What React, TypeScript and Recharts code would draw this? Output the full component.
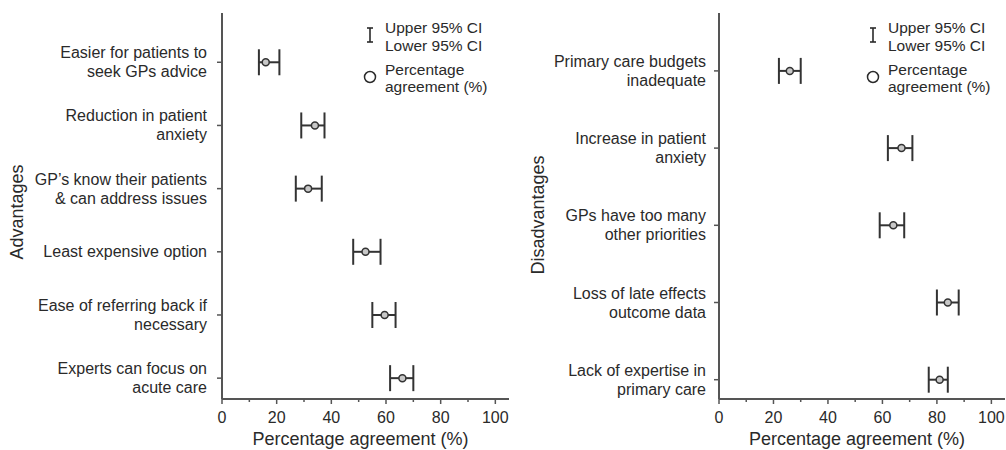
import React from 'react';
import { ScatterChart, Scatter, XAxis, YAxis, ErrorBar, Legend } from 'recharts';

const FONT = '"Liberation Sans", Arial, Helvetica, sans-serif';
const INK = '#2a2a2a';
const AXIS = '#555';

// Advantages (top to bottom)
const advLabels = [
  ['Easier for patients to', 'seek GPs advice'],
  ['Reduction in patient', 'anxiety'],
  ["GP’s know their patients", '& can address issues'],
  ['Least expensive option'],
  ['Ease of referring back if', 'necessary'],
  ['Experts can focus on', 'acute care'],
];
const advPct = [16, 34, 31.5, 52.5, 59.5, 66];
const advLow = [13.5, 29, 27, 48, 55, 61.5];
const advHigh = [21, 37.5, 36.5, 58, 63.5, 70];

// Disadvantages (top to bottom)
const disLabels = [
  ['Primary care budgets', 'inadequate'],
  ['Increase in patient', 'anxiety'],
  ['GPs have too many', 'other priorities'],
  ['Loss of late effects', 'outcome data'],
  ['Lack of expertise in', 'primary care'],
];
const disPct = [26, 67, 64, 84, 81];
const disLow = [22, 62, 59, 80, 77];
const disHigh = [30, 71, 68, 88, 84];

const xTicks = [0, 10, 20, 30, 40, 50, 60, 70, 80, 90, 100];

const XTick = (props: any) => {
  const { x, y, payload } = props;
  const major = payload.value % 20 === 0;
  return (
    <g>
      <line x1={x} x2={x} y1={y} y2={y + (major ? 5 : 3)} stroke={AXIS} strokeWidth={1.5} />
      {major && (
        <text x={x} y={y + 24} textAnchor="middle" fill={INK} fontSize={16} fontFamily={FONT}>
          {payload.value}
        </text>
      )}
    </g>
  );
};

const makeYTick = (labels: string[][]) => (props: any) => {
  const { x, y, payload } = props;
  const lines = labels[payload.value - 1] || [];
  const start = y - ((lines.length - 1) * 19) / 2 + 5.5;
  return (
    <text x={x} y={start} textAnchor="end" fill={INK} fontSize={16} fontFamily={FONT}>
      {lines.map((l, i) => (
        <tspan key={i} x={x} y={start + i * 19}>
          {l}
        </tspan>
      ))}
    </text>
  );
};

// rotated y-axis title, placed from the axis viewBox
const makeYTitle = (title: string, offset: number, shift: number) => (props: any) => {
  const vb = props.viewBox;
  const cx = vb.x + offset;
  const cy = vb.y + vb.height / 2 + shift;
  return (
    <text
      x={cx}
      y={cy}
      transform={`rotate(-90, ${cx}, ${cy})`}
      textAnchor="middle"
      dominantBaseline="central"
      fill={INK}
      fontSize={18}
      fontFamily={FONT}
    >
      {title}
    </text>
  );
};

const XTitle = (props: any) => {
  const vb = props.viewBox;
  return (
    <text
      x={vb.x + vb.width / 2 - 5}
      y={vb.y + vb.height - 5}
      textAnchor="middle"
      fill={INK}
      fontSize={18}
      fontFamily={FONT}
    >
      Percentage agreement (%)
    </text>
  );
};

const CiLegend = () => (
  <svg width={150} height={100} style={{ overflow: 'visible' }}>
    <g stroke={INK} strokeWidth={1.6}>
      <line x1={8} x2={8} y1={13} y2={27} />
      <line x1={5} x2={11} y1={13} y2={13} />
      <line x1={5} x2={11} y1={27} y2={27} />
    </g>
    <circle cx={8} cy={62} r={5.5} fill="#fff" stroke={INK} strokeWidth={1.5} />
    <g fill={INK} fontSize={15.5} fontFamily={FONT}>
      <text x={23} y={18}>Upper 95% CI</text>
      <text x={23} y={35.5}>Lower 95% CI</text>
      <text x={23} y={60}>Percentage</text>
      <text x={23} y={77}>agreement (%)</text>
    </g>
  </svg>
);

type PanelProps = {
  labels: string[][];
  pct: number[];
  low: number[];
  high: number[];
  title: string;
  left: number;
  width: number;
  yWidth: number;
  yDomain: [number, number];
  tickMargin: number;
  titleOffset: number;
  titleShift: number;
  legendLeft: number;
};

const Panel = (p: PanelProps) => {
  const data = p.pct.map((v, i) => ({
    pos: i + 1,
    pct: v,
    err: [v - p.low[i], p.high[i] - v],
  }));
  return (
    <div style={{ position: 'absolute', left: p.left, top: 0 }}>
      <ScatterChart width={p.width} height={450} margin={{ top: 13, right: 1, bottom: 0, left: 0 }}>
        <XAxis
          type="number"
          dataKey="pct"
          domain={[0, 105]}
          ticks={xTicks}
          interval={0}
          tickSize={0}
          tickMargin={0}
          tick={<XTick />}
          height={51}
          axisLine={{ stroke: AXIS, strokeWidth: 2 }}
          label={XTitle}
        />
        <YAxis
          type="number"
          dataKey="pos"
          reversed
          domain={p.yDomain}
          ticks={p.labels.map((_, i) => i + 1)}
          interval={0}
          width={p.yWidth}
          tickSize={5}
          tickMargin={p.tickMargin}
          tickLine={{ stroke: AXIS, strokeWidth: 1.5 }}
          axisLine={{ stroke: AXIS, strokeWidth: 2 }}
          tick={makeYTick(p.labels)}
          label={makeYTitle(p.title, p.titleOffset, p.titleShift)}
        />
        <Legend
          layout="vertical"
          align="center"
          verticalAlign="middle"
          wrapperStyle={{ position: 'absolute', left: p.legendLeft, top: 15, width: 150 }}
          content={() => <CiLegend />}
        />
        <Scatter
          data={data}
          isAnimationActive={false}
          shape={(s: any) => (
            <circle cx={s.cx} cy={s.cy} r={3.5} fill="#c8c8c8" stroke="#333" strokeWidth={1.5} />
          )}
        >
          <ErrorBar dataKey="err" direction="x" width={13} stroke="#333" strokeWidth={2} />
        </Scatter>
      </ScatterChart>
    </div>
  );
}

export default function App() {
  return (
    <div style={{ position: 'absolute', left: 0, top: 0, width: 1006, height: 450, background: '#fff' }}>
      <Panel
        labels={advLabels}
        pct={advPct}
        low={advLow}
        high={advHigh}
        title="Advantages"
        left={0}
        width={510}
        yWidth={222}
        yDomain={[0.22, 6.33]}
        tickMargin={10}
        titleOffset={17}
        titleShift={6}
        legendLeft={362}
      />
      <Panel
        labels={disLabels}
        pct={disPct}
        low={disLow}
        high={disHigh}
        title="Disadvantages"
        left={500}
        width={506}
        yWidth={219}
        yDomain={[0.25, 5.25]}
        tickMargin={8}
        titleOffset={38}
        titleShift={9}
        legendLeft={365}
      />
    </div>
  );
}
